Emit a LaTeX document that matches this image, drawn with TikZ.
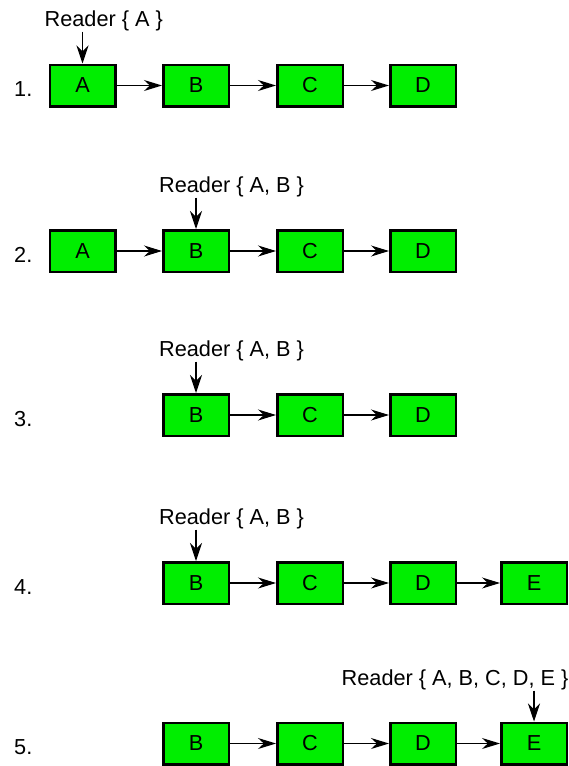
\documentclass[tikz,border=0pt]{standalone}
\usepackage{fontspec}
\setmainfont{Liberation Sans}
\usetikzlibrary{arrows.meta}
\definecolor{boxgreen}{RGB}{0,238,0}

\begin{document}
\begin{tikzpicture}[x=1pt,y=-1pt,
          every node/.style={font=\fontsize{21.7}{26}\selectfont},
          item/.style={rectangle,draw,line width=2.5pt,fill=boxgreen,minimum width=65.5pt,minimum height=41.5pt,inner sep=0pt},
          rowno/.style={anchor=base west,inner sep=0pt},
          reader/.style={anchor=base west,inner sep=0pt},
          link/.style={line width=1.1pt,-{Stealth[length=18pt,width=11pt]}},
          ptr/.style={line width=1.1pt,-{Stealth[length=18pt,width=12pt]}},
        ]
        \useasboundingbox (0,0) rectangle (568,766);
        % row 1
        \node[rowno] (n1) at (14, 96) {1.};
        \node[item] (a1) at (82.5, 85.5) {A};
        \node[item] (b1) at (196, 85.5) {B};
        \node[item] (c1) at (310, 85.5) {C};
        \node[item] (d1) at (423, 85.5) {D};
        \node[reader] (r1) at (44.5, 26) {Reader \{ A \}};
        \draw[ptr] ([yshift=-1pt]r1.south -| a1.north) -- (a1.north);
        \draw[link] (a1) -- (b1);
        \draw[link] (b1) -- (c1);
        \draw[link] (c1) -- (d1);
        % row 2
        \node[rowno] (n2) at (14, 262) {2.};
        \node[item] (a2) at (82.5, 251) {A};
        \node[item] (b2) at (196, 251) {B};
        \node[item] (c2) at (310, 251) {C};
        \node[item] (d2) at (423, 251) {D};
        \node[reader] (r2) at (159, 192) {Reader \{ A, B \}};
        \draw[ptr] ([yshift=-1pt]r2.south -| b2.north) -- (b2.north);
        \draw[link] (a2) -- (b2);
        \draw[link] (b2) -- (c2);
        \draw[link] (c2) -- (d2);
        % row 3
        \node[rowno] (n3) at (14, 426) {3.};
        \node[item] (b3) at (196, 415) {B};
        \node[item] (c3) at (310, 415) {C};
        \node[item] (d3) at (423, 415) {D};
        \node[reader] (r3) at (159, 356) {Reader \{ A, B \}};
        \draw[ptr] ([yshift=-1pt]r3.south -| b3.north) -- (b3.north);
        \draw[link] (b3) -- (c3);
        \draw[link] (c3) -- (d3);
        % row 4
        \node[rowno] (n4) at (14, 594) {4.};
        \node[item] (b4) at (196, 583) {B};
        \node[item] (c4) at (310, 583) {C};
        \node[item] (d4) at (423, 583) {D};
        \node[item] (e4) at (534, 583) {E};
        \node[reader] (r4) at (159, 524) {Reader \{ A, B \}};
        \draw[ptr] ([yshift=-1pt]r4.south -| b4.north) -- (b4.north);
        \draw[link] (b4) -- (c4);
        \draw[link] (c4) -- (d4);
        \draw[link] (d4) -- (e4);
        % row 5
        \node[rowno] (n5) at (14, 754) {5.};
        \node[item] (b5) at (196, 743.5) {B};
        \node[item] (c5) at (310, 743.5) {C};
        \node[item] (d5) at (423, 743.5) {D};
        \node[item] (e5) at (534, 743.5) {E};
        \node[reader] (r5) at (341.5, 685) {Reader \{ A, B, C, D, E \}};
        \draw[ptr] ([yshift=-1pt]r5.south -| e5.north) -- (e5.north);
        \draw[link] (b5) -- (c5);
        \draw[link] (c5) -- (d5);
        \draw[link] (d5) -- (e5);
      \end{tikzpicture}
\end{document}
